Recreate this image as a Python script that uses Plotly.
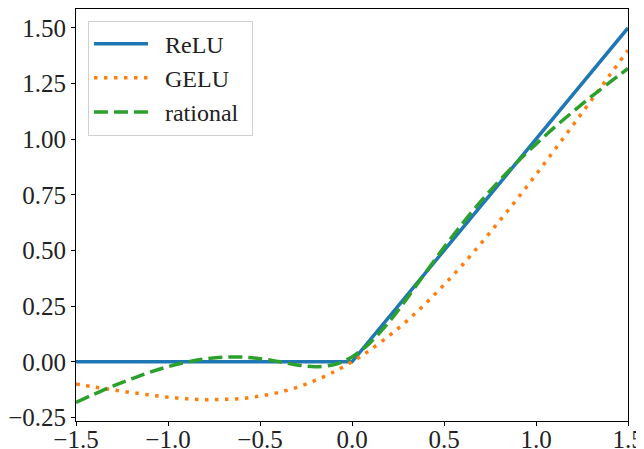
import plotly.graph_objects as go

# x grid
x_vals = [-1.5, -1.4, -1.3, -1.2, -1.1, -1.0, -0.9, -0.8, -0.7, -0.6, -0.5, -0.4,
          -0.3, -0.2, -0.1, -0.05, 0.0, 0.05, 0.1, 0.2, 0.3, 0.4, 0.5, 0.6, 0.7, 0.8,
          0.9, 1.0, 1.1, 1.2, 1.3, 1.4, 1.5]

relu_x = [-1.5, 0.0, 1.5]
relu_y = [0.0, 0.0, 1.5]

gelu_y = [-0.100, -0.113, -0.126, -0.138, -0.149, -0.159, -0.166, -0.170, -0.169,
          -0.165, -0.154, -0.138, -0.115, -0.084, -0.046, -0.024, 0.000, 0.026,
          0.054, 0.116, 0.185, 0.262, 0.346, 0.435, 0.531, 0.631, 0.734, 0.841,
          0.951, 1.062, 1.174, 1.287, 1.400]

rational_y = [-0.182, -0.145, -0.109, -0.077, -0.047, -0.022, -0.002, 0.013, 0.021,
              0.021, 0.014, 0.001, -0.014, -0.022, -0.013, 0.001, 0.022, 0.051,
              0.087, 0.178, 0.286, 0.401, 0.514, 0.621, 0.721, 0.813, 0.899, 0.978,
              1.053, 1.123, 1.191, 1.255, 1.318]

series_names = ["ReLU", "GELU", "rational"]

x_ticks = [-1.5, -1.0, -0.5, 0.0, 0.5, 1.0, 1.5]
y_ticks = [-0.25, 0.0, 0.25, 0.5, 0.75, 1.0, 1.25, 1.5]

FONT = "Liberation Serif"
PAD_L = "\u2002"
PAD_R = "\u2004"

fig = go.Figure()
fig.add_trace(go.Scatter(x=relu_x, y=relu_y, mode="lines",
                         name=PAD_L + series_names[0] + PAD_R,
                         line=dict(color="#1f77b4", width=3.5)))
fig.add_trace(go.Scatter(x=x_vals, y=gelu_y, mode="lines",
                         name=PAD_L + series_names[1] + PAD_R,
                         line=dict(color="#ff7f0e", width=3.5, dash="3.5px,6.5px",
                                   shape="spline")))
fig.add_trace(go.Scatter(x=x_vals, y=rational_y, mode="lines",
                         name=PAD_L + series_names[2] + PAD_R,
                         line=dict(color="#2ca02c", width=3.5, dash="14px,6px",
                                   shape="spline")))

axis_common = dict(showgrid=False, zeroline=False, showline=True, linecolor="black",
                   linewidth=1, mirror=True, ticks="outside", ticklen=4,
                   tickwidth=1, tickcolor="black", automargin=False,
                   tickfont=dict(family=FONT, size=25, color="#222222"))

# the page body adds an 8px offset, so the figure is sized 636x441
fig.update_layout(
    width=636, height=441,
    margin=dict(l=68, r=16, t=1, b=28),
    paper_bgcolor="white", plot_bgcolor="white",
    font=dict(family=FONT, size=24, color="#222222"),
    xaxis=dict(range=[-1.5, 1.5], tickvals=x_ticks, tickformat=".1f",
               ticklabelstandoff=-8, **axis_common),
    yaxis=dict(range=[-0.266, 1.585], tickvals=y_ticks, tickformat=".2f", **axis_common),
    legend=dict(x=0.0217, y=0.972, xanchor="left", yanchor="top",
                bgcolor="rgba(255,255,255,0.8)", bordercolor="#d0d0d0", borderwidth=1,
                font=dict(family=FONT, size=24, color="#222222"),
                itemwidth=54, tracegroupgap=0),
    showlegend=True,
)

fig.write_html("out.html")
